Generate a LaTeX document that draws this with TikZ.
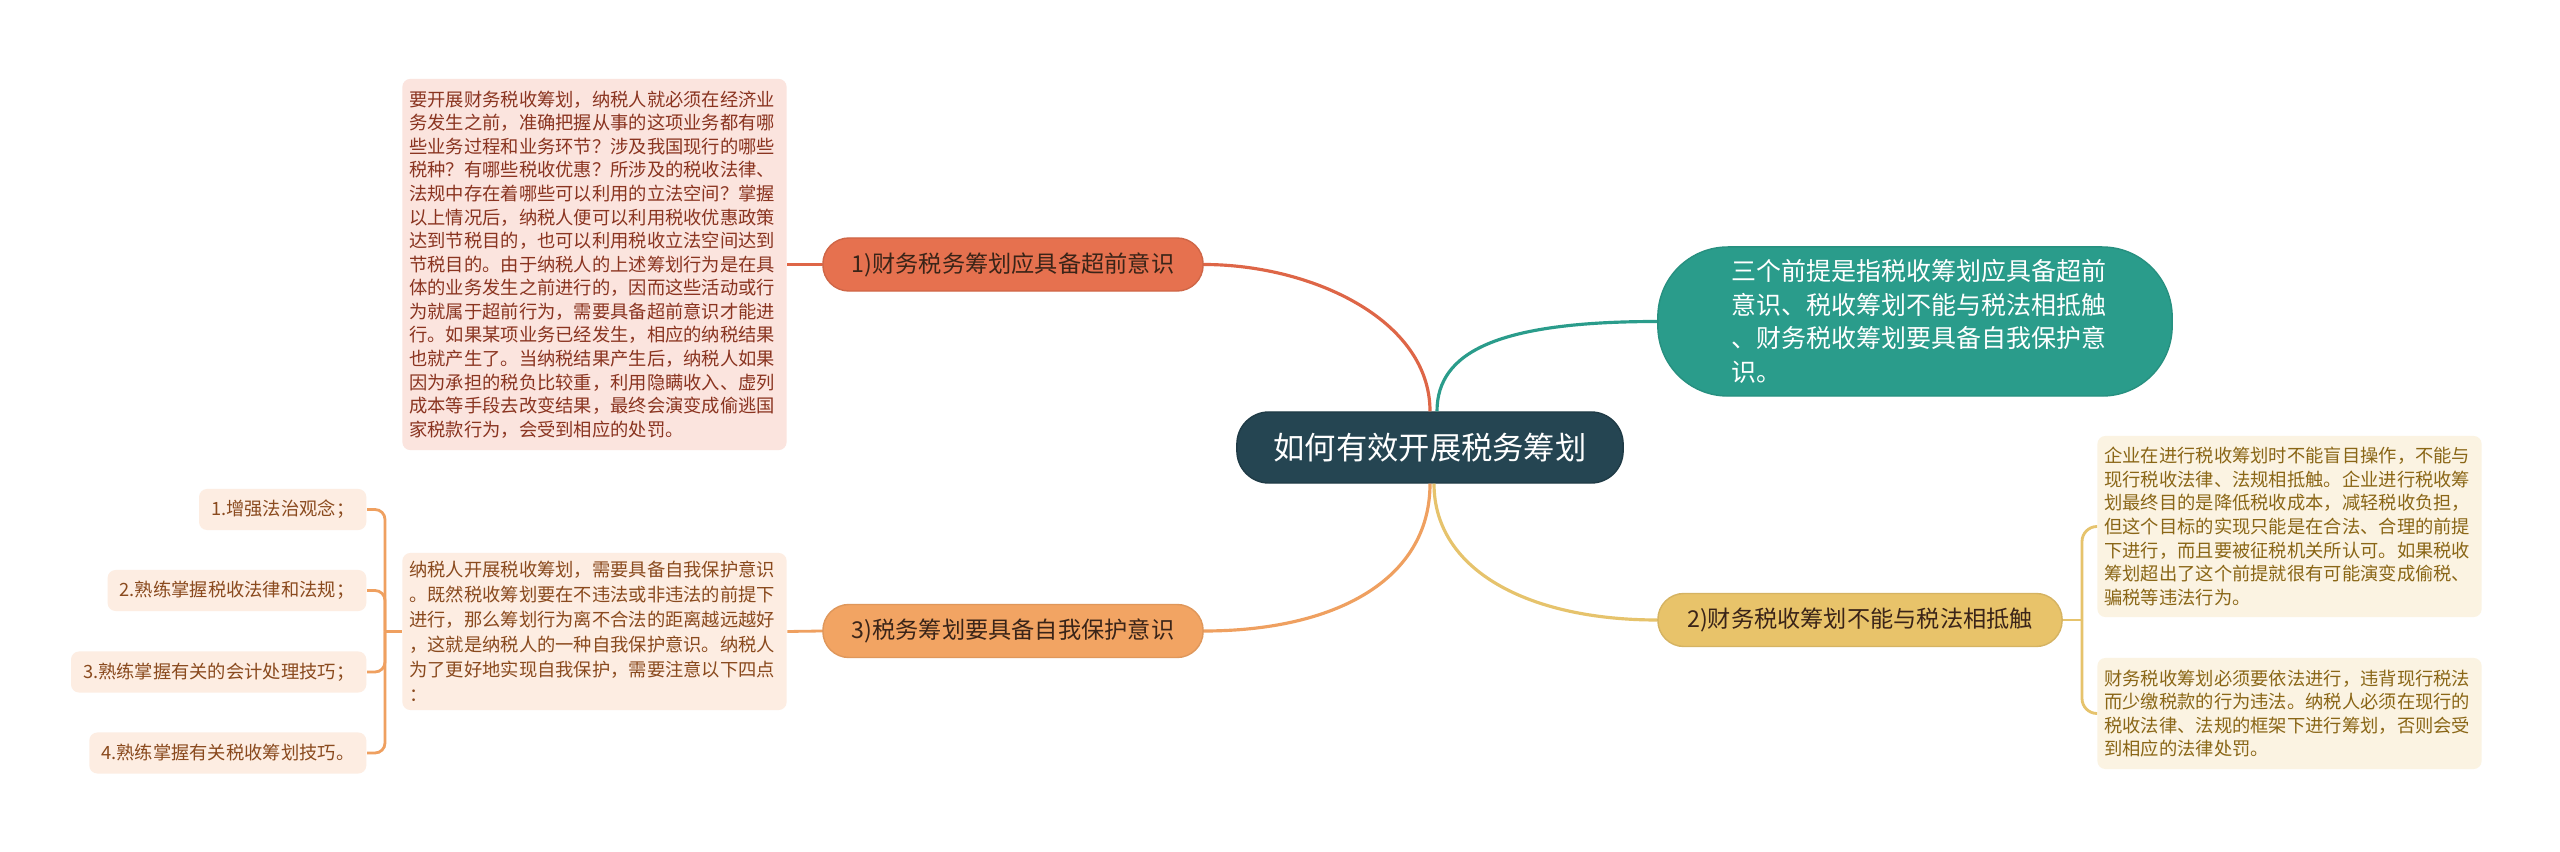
\documentclass[tikz,border=0pt]{standalone}
\usepackage{fontspec}
\setmainfont{Noto Sans CJK SC}
\definecolor{rootbg}{HTML}{254552}
\definecolor{redbg}{HTML}{E6714F}
\definecolor{redline}{HTML}{DE6647}
\definecolor{redpale}{HTML}{FBE4DE}
\definecolor{redtext}{HTML}{8A3420}
\definecolor{tealbg}{HTML}{2A9C8B}
\definecolor{orgbg}{HTML}{F2A463}
\definecolor{orgline}{HTML}{EFA060}
\definecolor{orgpale}{HTML}{FDEDE2}
\definecolor{orgtext}{HTML}{8A4A1E}
\definecolor{yelbg}{HTML}{E8C36A}
\definecolor{yelline}{HTML}{E6C36C}
\definecolor{yelpale}{HTML}{FBF3E2}
\definecolor{yeltext}{HTML}{8A6616}
\definecolor{darkink}{HTML}{3A2418}

\begin{document}
\begin{tikzpicture}[x=0.01cm,y=-0.01cm,
  root/.style={fill=rootbg,draw=rootbg!85!black,rounded corners=0.32cm,text=white,
    font=\fontsize{8.9pt}{10pt}\selectfont,minimum width=3.86cm,minimum height=0.71cm,inner sep=0pt},
  topic/.style={rounded corners=0.26cm,text=darkink,minimum width=3.8cm,minimum height=0.53cm,
    inner sep=0pt,font=\fontsize{6.6pt}{8pt}\selectfont},
  note/.style={rounded corners=0.08cm,align=left,text width=3.7cm,inner xsep=0.07cm,inner ysep=0pt,
    font=\fontsize{5.2pt}{6.7pt}\selectfont},
  item/.style={fill=orgpale,text=orgtext,rounded corners=0.08cm,anchor=east,minimum height=0.41cm,
    inner xsep=0.12cm,inner ysep=0pt,font=\fontsize{5.2pt}{6.5pt}\selectfont},
  branch/.style={line width=0.9pt},
  twig/.style={line width=0.8pt}]
\fill[white] (0,0) rectangle (2560,852);
\useasboundingbox (0,0) rectangle (2560,852);

\node[root] (root) at (1430,447.5) {如何有效开展税务筹划};
\node[topic,fill=redbg,draw=redbg!90!black] (n1) at (1013,264.5) {1)财务税务筹划应具备超前意识};
\node[topic,fill=orgbg,draw=orgbg!92!black] (n3) at (1013,631) {3)税务筹划要具备自我保护意识};
\node[topic,fill=yelbg,draw=yelbg!92!black,minimum width=4.04cm] (n2) at (1860,620) {2)财务税收筹划不能与税法相抵触};
\node[fill=tealbg,draw=tealbg!92!black,rounded corners=0.7cm,text=white,align=left,text width=3.66cm,
  minimum width=5.14cm,minimum height=1.49cm,font=\fontsize{7.1pt}{9.6pt}\selectfont] (tri) at (1915,321.5)
  {三个前提是指税收筹划应具备超前\\意识、税收筹划不能与税法相抵触\\、财务税收筹划要具备自我保护意\\识。};

\node[note,fill=redpale,text=redtext,minimum height=3.71cm] (t1) at (594.5,264.5)
  {要开展财务税收筹划，纳税人就必须在经济业\\务发生之前，准确把握从事的这项业务都有哪\\些业务过程和业务环节？涉及我国现行的哪些\\税种？有哪些税收优惠？所涉及的税收法律、\\法规中存在着哪些可以利用的立法空间？掌握\\以上情况后，纳税人便可以利用税收优惠政策\\达到节税目的，也可以利用税收立法空间达到\\节税目的。由于纳税人的上述筹划行为是在具\\体的业务发生之前进行的，因而这些活动或行\\为就属于超前行为，需要具备超前意识才能进\\行。如果某项业务已经发生，相应的纳税结果\\也就产生了。当纳税结果产生后，纳税人如果\\因为承担的税负比较重，利用隐瞒收入、虚列\\成本等手段去改变结果，最终会演变成偷逃国\\家税款行为，会受到相应的处罚。};
\node[note,fill=orgpale,text=orgtext,minimum height=1.57cm,font=\fontsize{5.2pt}{7.1pt}\selectfont] (t3) at (594.5,631.5)
  {纳税人开展税收筹划，需要具备自我保护意识\\。既然税收筹划要在不违法或非违法的前提下\\进行，那么筹划行为离不合法的距离越远越好\\，这就是纳税人的一种自我保护意识。纳税人\\为了更好地实现自我保护，需要注意以下四点\\：};
\node[note,fill=yelpale,text=yeltext,minimum height=1.81cm] (y1) at (2289.5,526.5)
  {企业在进行税收筹划时不能盲目操作，不能与\\现行税收法律、法规相抵触。企业进行税收筹\\划最终目的是降低税收成本，减轻税收负担，\\但这个目标的实现只能是在合法、合理的前提\\下进行，而且要被征税机关所认可。如果税收\\筹划超出了这个前提就很有可能演变成偷税、\\骗税等违法行为。};
\node[note,fill=yelpale,text=yeltext,minimum height=1.11cm] (y2) at (2289.5,713.5)
  {财务税收筹划必须要依法进行，违背现行税法\\而少缴税款的行为违法。纳税人必须在现行的\\税收法律、法规的框架下进行筹划，否则会受\\到相应的法律处罚。};

\node[item] (l1) at (367,509.5) {1.增强法治观念；};
\node[item] (l2) at (367,590.5) {2.熟练掌握税收法律和法规；};
\node[item] (l3) at (367,672) {3.熟练掌握有关的会计处理技巧；};
\node[item] (l4) at (367,753) {4.熟练掌握有关税收筹划技巧。};

\draw[branch,redline] (root.north) .. controls +(0,-92) and +(107,0) .. (n1.east);
\draw[branch,tealbg] ([xshift=0.07cm]root.north) .. controls +(0,-60) and +(-158,0) .. (tri.west);
\draw[branch,orgline] (root.south) .. controls +(0,97) and +(130,0) .. (n3.east);
\draw[branch,yelline] ([xshift=0.04cm]root.south) .. controls +(0,87) and +(-128,0) .. (n2.west);

\draw[twig,redline] (n1.west) -- (t1.east);
\draw[twig,orgline] (n3.west) -- (t3.east);
\coordinate (lb) at (385,631.5);
\draw[twig,orgline] (t3.west) -- (lb);
\foreach \i in {1,...,4}
  \draw[twig,orgline,rounded corners=0.1cm] (lb) |- (l\i.east);
\coordinate (rb) at (2082,620);
\draw[twig,yelline] (n2.east) -- (rb);
\foreach \i in {1,2}
  \draw[twig,yelline,rounded corners=0.15cm] (rb) |- (y\i.west);
\end{tikzpicture}
\end{document}
